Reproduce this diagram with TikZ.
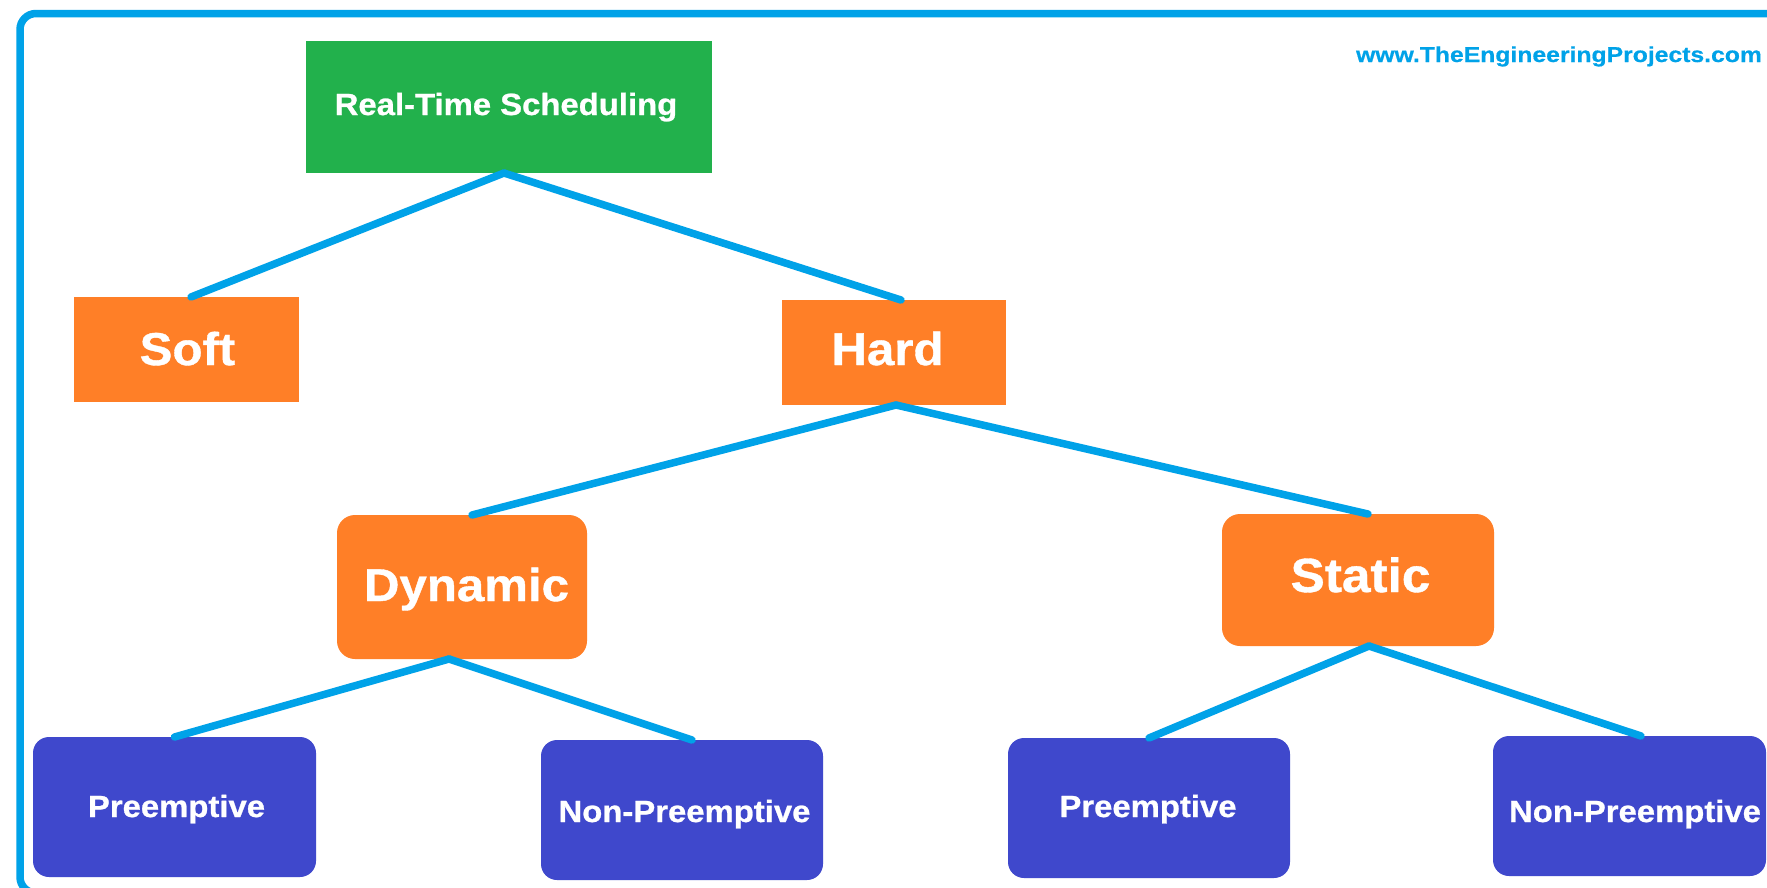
\documentclass[tikz,border=0pt]{standalone}
\usepackage{fontspec}
\setmainfont{Liberation Sans}
\newfontfamily\lblfont{Liberation Sans}[FakeStretch=1.07,FakeBold=0.8]
\newfontfamily\wmfont{Liberation Sans}[FakeStretch=1.15,FakeBold=0.6]
\definecolor{linkblue}{HTML}{00A2E8}
\definecolor{rootgreen}{HTML}{22B14C}
\definecolor{midorange}{HTML}{FF7F27}
\definecolor{leafblue}{HTML}{3F48CC}
\begin{document}
\begin{tikzpicture}[x=1pt,y=-1pt,
  conn/.style={draw=linkblue,line width=7.5pt,line cap=round},
  box/.style={inner sep=0pt,outer sep=0pt,draw=none},
  toprect/.style={box,fill=rootgreen},
  midrect/.style={box,fill=midorange},
  midround/.style={box,fill=midorange,rounded corners=18pt},
  leafbox/.style={box,fill=leafblue,rounded corners=16pt},
  lbl/.style={anchor=base,text=white,inner sep=0pt},
  biglbl/.style={lbl,font=\lblfont\bfseries\fontsize{46}{50}\selectfont},
  smalllbl/.style={lbl,font=\lblfont\bfseries\fontsize{30.7}{34}\selectfont},
  wm/.style={anchor=base,text=linkblue,inner sep=0pt,font=\wmfont\bfseries\fontsize{21.5}{24}\selectfont}]
\useasboundingbox (0,0) rectangle (1767,887);
\fill[white] (0,0) rectangle (1767,887);
% outer frame
\draw[linkblue,line width=7.5pt,rounded corners=16pt] (20,13.5) rectangle (1800,893);
% boxes
\node[toprect,minimum width=406pt,minimum height=132pt] (root) at (509,107) {};
\node[midrect,minimum width=225pt,minimum height=105pt] (soft) at (186.5,349.5) {};
\node[midrect,minimum width=224pt,minimum height=105pt] (hard) at (894,352.5) {};
\node[midround,minimum width=250pt,minimum height=144pt] (dyn) at (462,587) {};
\node[midround,minimum width=272pt,minimum height=132pt] (stat) at (1358,580) {};
\node[leafbox,minimum width=283pt,minimum height=140pt] (preA) at (174.5,807) {};
\node[leafbox,minimum width=282pt,minimum height=140pt] (nonA) at (682,810) {};
\node[leafbox,minimum width=282pt,minimum height=140pt] (preB) at (1149,808) {};
\node[leafbox,minimum width=273pt,minimum height=140pt] (nonB) at (1629.5,806) {};
% connectors
\draw[conn] ([xshift=-5pt]root.south) -- ([xshift=4.5pt]soft.north);
\draw[conn] ([xshift=-5pt]root.south) -- ([xshift=7pt]hard.north);
\draw[conn] ([xshift=2pt]hard.south) -- ([xshift=10pt]dyn.north);
\draw[conn] ([xshift=2pt]hard.south) -- ([xshift=10pt]stat.north);
\draw[conn] ([xshift=-13pt]dyn.south) -- (preA.north);
\draw[conn] ([xshift=-13pt]dyn.south) -- ([xshift=10pt]nonA.north);
\draw[conn] ([xshift=11pt]stat.south) -- (preB.north);
\draw[conn] ([xshift=11pt]stat.south) -- ([xshift=11.5pt]nonB.north);
% labels
\node[smalllbl] (rootlbl) at (506,115) {Real-Time Scheduling};
\node[biglbl] (softlbl) at (187.5,365) {Soft};
\node[biglbl] (hardlbl) at (887.5,365) {Hard};
\node[biglbl] (dynlbl) at (466.5,601) {Dynamic};
\node[biglbl,font=\lblfont\bfseries\fontsize{48}{52}\selectfont] (statlbl) at (1360.5,592) {Static};
\node[smalllbl] (preAlbl) at (176.5,817) {Preemptive};
\node[smalllbl] (nonAlbl) at (684.5,822) {Non-Preemptive};
\node[smalllbl] (preBlbl) at (1148,817) {Preemptive};
\node[smalllbl] (nonBlbl) at (1635,822) {Non-Preemptive};
\node[wm] (wmlbl) at (1559,62) {www.TheEngineeringProjects.com};
\end{tikzpicture}
\end{document}
